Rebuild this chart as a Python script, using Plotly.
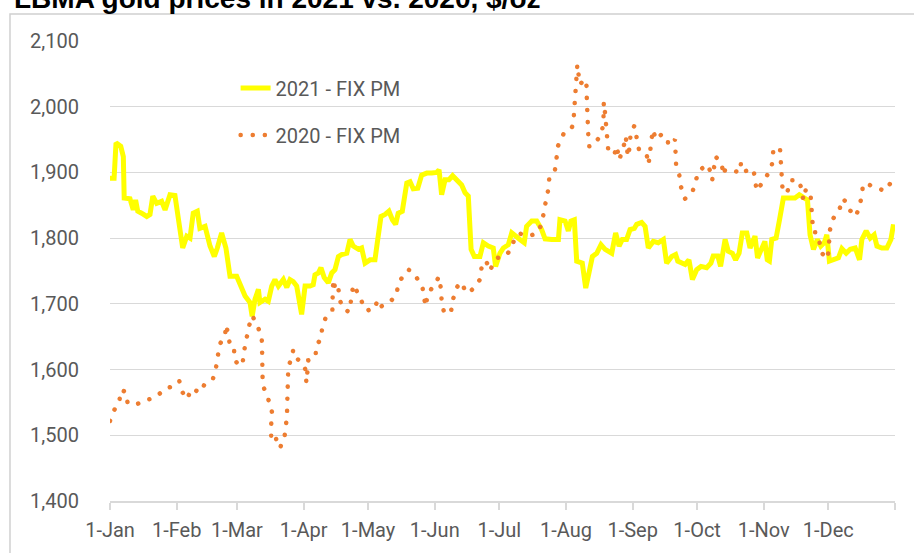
import pandas as pd
import plotly.graph_objects as go

# ---- data (day offset from 1-Jan, LBMA PM fix $/oz) ----
days_2021 = [0, 1.9, 2.8, 5.0, 6.2, 6.6, 9.3, 10.8, 11.9, 12.9, 14.7, 17.1, 18.6, 19.9, 21.7, 24.0, 25.6, 27.9,
             30.2, 31.8, 33.8, 35.7, 37.2, 38.7, 40.6, 41.8, 44.2, 46.5, 48.5, 49.9, 51.9, 53.9, 55.8, 58.9,
             62.8, 65.1, 66.1, 67.4, 69.0, 69.7, 72.1, 73.6, 75.2, 76.7, 78.3, 80.6, 82.2, 83.7, 85.2, 86.8,
             88.3, 89.1, 90.7, 93.0, 94.5, 95.3, 96.9, 98.1, 99.6, 101.5, 103.1, 104.6, 106.2, 107.7, 110.1,
             111.6, 113.1, 115.5, 117.0, 118.6, 120.9, 123.2, 124.5, 126.0, 127.9, 129.7, 131.3, 132.8, 134.0,
             135.9, 138.0, 139.5, 141.0, 143.1, 144.9, 147.3, 149.6, 151.9, 153.0, 154.2, 155.8, 157.6, 159.3,
             161.2, 163.5, 165.1, 166.6, 167.9, 169.4, 172.0, 173.6, 175.9, 178.2, 179.3, 181.3, 182.9, 185.2,
             186.8, 188.3, 190.6, 192.6, 193.7, 196.1, 198.4, 200.7, 202.3, 205.4, 208.5, 209.2, 211.6, 213.1,
             214.3, 215.9, 217.0, 219.6, 221.2, 222.7, 224.3, 226.3, 228.3, 230.2, 233.3, 235.1, 236.7, 238.2,
             240.2, 241.8, 243.8, 244.9, 247.2, 248.8, 250.3, 252.6, 254.9, 257.3, 258.8, 261.2, 263.0, 264.0,
             265.8, 267.4, 269.2, 270.8, 272.8, 274.8, 277.4, 279.4, 280.5, 282.6, 283.9, 286.0, 287.5, 289.4,
             290.9, 292.5, 294.0, 296.1, 297.6, 299.9, 301.1, 302.2, 304.5, 305.6, 306.6, 307.7, 309.7, 311.2,
             313.1, 315.4, 318.5, 320.5, 322.4, 324.3, 325.5, 327.1, 328.9, 330.5, 332.1, 333.3, 334.5, 336.7,
             338.7, 340.3, 342.3, 344.2, 346.5, 348.5, 349.6, 351.6, 353.5, 355.3, 356.6, 358.9, 361.2, 363.1,
             364.3]
gold_2021 = [1891, 1891, 1945, 1940, 1924, 1861, 1860, 1843, 1858, 1841, 1838, 1833, 1836, 1864, 1853, 1856, 1843,
             1866, 1865, 1833, 1785, 1803, 1800, 1838, 1841, 1815, 1818, 1788, 1772, 1785, 1808, 1785, 1742, 1742,
             1712, 1702, 1681, 1707, 1722, 1702, 1707, 1704, 1727, 1737, 1727, 1737, 1725, 1737, 1734, 1727,
             1697, 1684, 1727, 1727, 1729, 1744, 1747, 1755, 1740, 1732, 1747, 1752, 1772, 1775, 1777,
             1798, 1788, 1783, 1785, 1762, 1767, 1767, 1798, 1833, 1836, 1841, 1828, 1821, 1838,
             1841, 1884, 1886, 1875, 1876, 1896, 1899, 1899, 1900, 1904, 1866, 1889, 1889, 1895,
             1889, 1881, 1869, 1864, 1783, 1772, 1772, 1793, 1788, 1785, 1757, 1777, 1785, 1790,
             1808, 1803, 1798, 1793, 1818, 1826, 1826, 1813, 1799, 1798, 1798, 1828, 1826, 1811,
             1826, 1828, 1765, 1762, 1724, 1747, 1772, 1777, 1790, 1783, 1777, 1808, 1788, 1798,
             1798, 1813, 1815, 1821, 1824, 1818, 1785, 1795, 1793, 1798, 1762, 1772, 1775, 1765,
             1762, 1760, 1767, 1737, 1752, 1757, 1755, 1762, 1773, 1773, 1757, 1798, 1780, 1777,
             1767, 1777, 1808, 1808, 1785, 1803, 1770, 1777, 1795, 1767, 1765, 1798, 1800, 1826,
             1861, 1861, 1861, 1866, 1861, 1858, 1805, 1783, 1798, 1788, 1793, 1805, 1765, 1767,
             1770, 1784, 1777, 1783, 1785, 1767, 1798, 1811, 1800, 1805, 1788, 1785, 1785, 1798,
             1821]

days_2020 = [0, 1.9, 4.3, 5.1, 7.3, 8.2, 12.4, 15.8, 19.7, 22.3, 25.7, 28.7, 32.2, 33.6, 35.8, 38.0, 41.8, 43.7,
             47.8, 49.3, 50.1, 51.1, 53.5, 53.9, 55.0, 55.8, 57.7, 57.8, 60.4, 61.7, 62.4, 63.6, 64.6, 66.2,
             68.2, 70.5, 70.7, 70.8, 70.9, 71.0, 72.7, 74.4, 75.4, 75.0, 74.8, 75.0, 77.0, 77.9, 79.0, 81.0,
             81.7, 82.3, 82.4, 82.6, 82.8, 82.9, 84.5, 85.2, 87.2, 90.2, 91.0, 91.3, 91.8, 92.2, 95.6, 95.8,
             98.1, 98.7, 100.4, 103.4, 103.5, 103.8, 105.1, 106.2, 106.9, 108.8, 111.3, 112.1, 113.1, 115.5,
             117.5, 119.0, 120.4, 123.2, 124.5, 126.0, 130.2, 133.3, 134.0, 138.7, 140.3, 141.5, 145.2, 146.1,
             146.8, 147.7, 150.3, 153.0, 153.9, 154.2, 155.4, 158.6, 159.6, 161.2, 163.2, 165.1, 166.6, 169.4,
             172.0, 172.8, 174.8, 176.7, 178.2, 180.3, 184.0, 186.8, 188.3, 190.6, 194.5, 198.4, 200.7, 201.5,
             202.7, 203.8, 204.3, 206.9, 207.4, 208.4, 210.8, 213.9, 215.4, 215.7, 216.2, 216.5, 217.0, 217.3,
             217.7, 218.5, 220.9, 221.6, 221.7, 221.8, 222.2, 222.4, 222.9, 225.1, 228.0, 229.4, 229.5, 229.6,
             230.2, 230.6, 231.1, 231.7, 234.5, 235.6, 236.8, 237.9, 239.0, 239.8, 240.8, 241.8, 242.0, 243.8,
             244.9, 246.0, 249.5, 250.3, 251.1, 251.5, 252.6, 253.7, 256.5, 258.1, 259.3, 259.6, 262.7, 263.0,
             263.2, 264.7, 265.5, 267.4, 270.8, 272.3, 273.9, 277.9, 279.4, 280.0, 281.0, 281.6, 284.4, 285.2,
             286.0, 288.3, 292.9, 293.4, 295.3, 299.2, 299.9, 300.7, 303.0, 305.3, 307.2, 308.1, 308.4, 311.5,
             311.9, 312.0, 312.3, 312.8, 314.9, 316.5, 320.1, 321.6, 322.4, 323.6, 325.8, 326.0, 326.6, 327.0,
             328.3, 329.8, 330.6, 333.2, 334.0, 334.4, 334.8, 336.3, 339.1, 340.7, 342.3, 343.8, 346.9, 348.0,
             349.5, 350.0, 351.0, 355.2, 360.3, 363.4]
gold_2020 = [1522, 1538, 1551, 1569, 1566, 1549, 1547, 1553, 1556, 1561, 1571, 1574, 1583, 1566, 1555, 1571, 1565, 1576,
             1585, 1603, 1620, 1639, 1651, 1668, 1654, 1636, 1633, 1615, 1605, 1611, 1629, 1647, 1666, 1682,
             1667, 1652, 1633, 1614, 1596, 1577, 1562, 1548, 1534, 1521, 1511, 1494, 1499, 1483, 1481, 1494,
             1511, 1529, 1548, 1566, 1585, 1604, 1618, 1630, 1616, 1607, 1598, 1580, 1597, 1614, 1619, 1636,
             1647, 1665, 1680, 1690, 1708, 1737, 1718, 1723, 1705, 1691, 1688, 1706, 1729, 1715,
             1700, 1700, 1689, 1695, 1706, 1696, 1703, 1714, 1732, 1752, 1750, 1745, 1727, 1708,
             1696, 1714, 1728, 1741, 1722, 1705, 1685, 1689, 1708, 1725, 1733, 1721, 1716, 1725,
             1737, 1756, 1766, 1750, 1762, 1770, 1773, 1785, 1802, 1807, 1803, 1807, 1821, 1839,
             1857, 1874, 1893, 1904, 1922, 1941, 1958, 1963, 1973, 1990, 2008, 2027, 2046, 2064,
             2053, 2034, 2042, 2031, 2012, 1994, 1975, 1956, 1939, 1944, 1955, 1973, 1990, 2007,
             1990, 1968, 1951, 1933, 1927, 1940, 1919, 1929, 1942, 1955, 1924, 1942, 1958, 1971,
             1952, 1934, 1928, 1912, 1927, 1946, 1965, 1950, 1958, 1955, 1950, 1941, 1950, 1931,
             1913, 1896, 1878, 1860, 1870, 1887, 1903, 1912, 1899, 1888, 1907, 1924, 1914, 1896,
             1904, 1904, 1900, 1915, 1902, 1905, 1889, 1872, 1883, 1895, 1904, 1917, 1934, 1938,
             1920, 1901, 1883, 1870, 1870, 1888, 1888, 1875, 1858, 1875, 1864, 1845, 1826, 1809,
             1809, 1796, 1779, 1768, 1778, 1796, 1813, 1830, 1843, 1860, 1855, 1843, 1833, 1845,
             1862, 1878, 1884, 1878, 1872, 1886]

month_ticks = ["2021-01-01", "2021-02-01", "2021-03-01", "2021-04-01", "2021-05-01", "2021-06-01",
               "2021-07-01", "2021-08-01", "2021-09-01", "2021-10-01", "2021-11-01", "2021-12-01", "2022-01-01"]
month_labels = ["1-Jan", "1-Feb", "1-Mar", "1-Apr", "1-May", "1-Jun",
                "1-Jul", "1-Aug", "1-Sep", "1-Oct", "1-Nov", "1-Dec", ""]
y_ticks = [1400, 1500, 1600, 1700, 1800, 1900, 2000, 2100]

base = pd.Timestamp("2021-01-01")
x2021 = base + pd.to_timedelta(days_2021, unit="D")
x2020 = base + pd.to_timedelta(days_2020, unit="D")

GRID = "#d9d9d9"
TXT = "#595959"
FONT = "Roboto"

fig = go.Figure()
fig.add_trace(go.Scatter(x=x2021, y=gold_2021, mode="lines", name="2021 - FIX PM",
                         legendgroup="a", line=dict(color="#FFFF00", width=5)))
fig.add_trace(go.Scatter(x=x2020, y=gold_2020, mode="lines", name="2020 - FIX PM",
                         legendgroup="b", line=dict(color="#ED7D31", width=4.5, dash="5px,7px")))

fig.update_layout(
    width=914, height=553,
    margin=dict(l=110, r=19, t=41, b=52),
    paper_bgcolor="white", plot_bgcolor="white",
    font=dict(family=FONT, size=20, color=TXT),
    showlegend=True,
    legend=dict(x=0.160, y=0.94, xanchor="left", yanchor="top", bgcolor="rgba(0,0,0,0)",
                font=dict(family=FONT, size=20, color=TXT), tracegroupgap=18, traceorder="grouped"),
    xaxis=dict(type="date", range=["2021-01-01", "2022-01-01"], tickvals=month_ticks, ticktext=month_labels,
               showgrid=False, showline=True, linecolor=GRID, linewidth=1.5, ticks="outside", ticklen=7,
               tickcolor=GRID, tickwidth=1.5, tickfont=dict(family=FONT, size=20, color=TXT), zeroline=False,
               ticklabelstandoff=3),
    yaxis=dict(range=[1400, 2100], tickvals=y_ticks, tickformat=",", showgrid=True, gridcolor=GRID,
               gridwidth=1.3, zeroline=False, showline=False, ticks="outside", ticklen=26,
               tickcolor="rgba(0,0,0,0)", tickfont=dict(family=FONT, size=20, color=TXT)),
    shapes=[dict(type="rect", xref="paper", yref="paper", x0=-0.1274, x1=1.2, y0=-0.2, y1=1.0587,
                 line=dict(color="#d0d0d0", width=1.5), layer="below")],
    annotations=[dict(text="<b>LBMA gold prices in 2021 vs. 2020, $/oz</b>", xref="paper", yref="paper",
                      x=-0.1248, y=1.0533, xanchor="left", yanchor="bottom", showarrow=False,
                      font=dict(family="Liberation Sans", size=28, color="black"))],
)

post = """
var gd = document.getElementById('{plot_id}');
gd.querySelectorAll('path.js-line').forEach(function(p){
  var s = p.style.stroke || '';
  if (s.indexOf('237, 125, 49') >= 0) {
    p.style.strokeLinecap = 'round';
    p.style.strokeDasharray = '0.1px, 12px';
  }
});
"""
fig.write_html("out.html", post_script=post)
